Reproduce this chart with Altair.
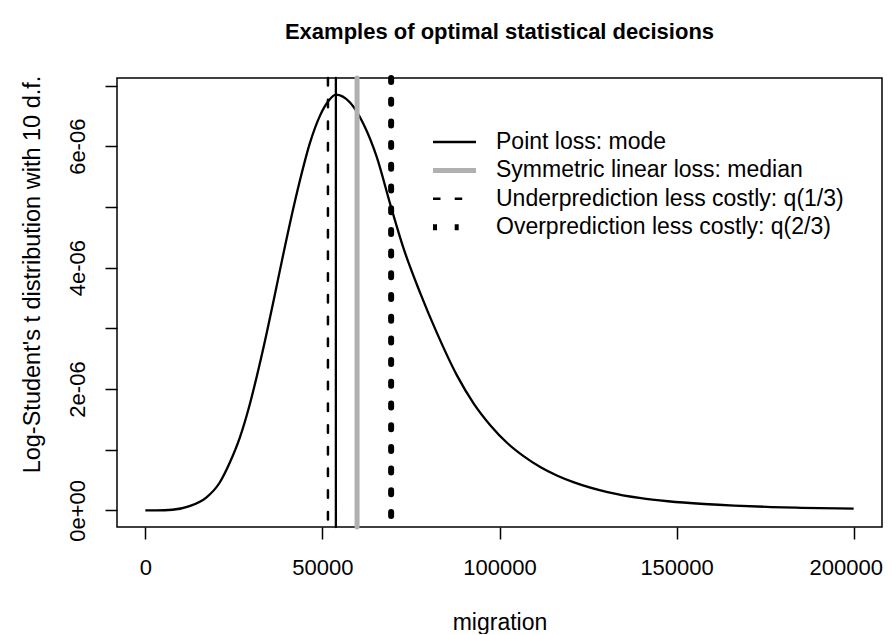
import altair as alt
import pandas as pd

# ---- data ----
curve_x = [0, 3000, 7650, 12465, 17195, 20963, 23796, 26629, 29462, 31360, 34193,
           37478, 40793, 43626, 46459, 49292, 51644, 53800, 57791, 61559, 65355,
           69123, 72891, 77621, 82352, 88018, 92722, 97451, 102182, 106886, 111616,
           116347, 121050, 130511, 139953, 147594, 157793, 166291, 176772, 185272, 200000]
curve_y = [0.0, 0.0, 0.01, 0.07, 0.21, 0.455, 0.78, 1.19, 1.74, 2.18, 2.90,
           3.81, 4.72, 5.43, 6.05, 6.50, 6.74, 6.85, 6.72, 6.37, 5.82,
           5.05, 4.32, 3.58, 2.92, 2.22, 1.76, 1.40, 1.11, 0.89, 0.71,
           0.57, 0.46, 0.30, 0.20, 0.15, 0.105, 0.078, 0.055, 0.042, 0.028]  # x 1e-6

legend_labels = ["Point loss: mode",
                 "Symmetric linear loss: median",
                 "Underprediction less costly: q(1/3)",
                 "Overprediction less costly: q(2/3)"]
decision_x = [53800, 59780, 51560, 69400]
line_colors = ["black", "#b0b0b0", "black", "black"]
line_dashes = [[1, 0], [1, 0], [7.5, 14.2], [4, 17.7]]
line_widths = [2.3, 5, 2.5, 6]

x_ticks = [0, 50000, 100000, 150000, 200000]
y_ticks = [0, 1e-6, 2e-6, 3e-6, 4e-6, 5e-6, 6e-6, 7e-6]

curve_df = pd.DataFrame({"x": curve_x, "y": [v * 1e-6 for v in curve_y]})
rules_df = pd.DataFrame({"x": decision_x, "series": legend_labels})

W, H = 765, 449
FONT = "Liberation Sans"
FS = 22      # tick labels
FT = 23      # axis titles / legend

xscale = alt.Scale(domain=[-8000, 208000], nice=False, zero=False)
yscale = alt.Scale(domain=[-0.274e-6, 7.124e-6], nice=False, zero=False)

xaxis = alt.Axis(values=x_ticks, format="d", title="migration", grid=False, domain=False,
                 ticks=True, tickSize=12, tickWidth=1.5, tickColor="black",
                 labelFont=FONT, labelFontSize=FS, labelColor="black",
                 labelBaseline="middle", labelPadding=28, labelFlush=False,
                 labelOffset={"condition": {"test": "datum.value == 200000", "value": -8}, "value": 0},
                 titleFont=FONT, titleFontSize=FT, titleFontWeight="normal", titleColor="black",
                 titleBaseline="alphabetic", titleY=102, titleX=W / 2)
yaxis = alt.Axis(values=y_ticks, title="Log-Student's t distribution with 10 d.f.", grid=False,
                 domain=False, ticks=True, tickSize=12, tickWidth=1.5, tickColor="black",
                 labelExpr="round(datum.value*1e6) % 2 == 1 ? '' : replace(replace(format(datum.value, '.0e'), 'e-', 'e-0'), 'e+', 'e+0')",
                 labelAngle=270, labelAlign="center", labelBaseline="middle", labelPadding=28,
                 labelFont=FONT, labelFontSize=FS, labelColor="black", labelFlush=False,
                 labelOverlap=False,
                 titleFont=FONT, titleFontSize=23.5, titleFontWeight="normal", titleColor="black",
                 titleAngle=270, titleBaseline="middle", titleAlign="center",
                 titleX=-85, titleY=196)

curve = alt.Chart(curve_df).mark_line(color="black", strokeWidth=2.3, interpolate="monotone").encode(
    x=alt.X("x:Q", scale=xscale, axis=xaxis),
    y=alt.Y("y:Q", scale=yscale, axis=yaxis),
)

leg = alt.Legend(title=None, orient="none", legendX=313, legendY=53, padding=0,
                 symbolType="stroke", symbolSize=43 * 43, clipHeight=22, rowPadding=5.4,
                 labelOffset=17, labelFont=FONT, labelFontSize=FT, labelColor="black",
                 labelLimit=500)

rules = alt.Chart(rules_df).mark_rule(strokeCap="round").encode(
    x=alt.X("x:Q", scale=xscale),
    y=alt.value(0),
    y2=alt.value(H),
    color=alt.Color("series:N", scale=alt.Scale(domain=legend_labels, range=line_colors), legend=leg),
    strokeDash=alt.StrokeDash("series:N", scale=alt.Scale(domain=legend_labels, range=line_dashes), legend=leg),
    strokeWidth=alt.StrokeWidth("series:N", scale=alt.Scale(type="ordinal", domain=legend_labels, range=line_widths), legend=leg),
)

chart = alt.layer(curve, rules).properties(
    width=W, height=H,
    background="white",
    title=alt.Title("Examples of optimal statistical decisions", font=FONT, fontSize=22,
                    fontWeight="bold", color="black", anchor="middle", frame="group",
                    baseline="middle", offset=21),
    autosize=alt.AutoSizeParams(type="none"),
    padding={"left": 109, "top": 70, "right": 2, "bottom": 107},
).configure_view(stroke="black", strokeWidth=1.5)

chart.save("out.html", embed_options={"renderer": "svg", "actions": False})
